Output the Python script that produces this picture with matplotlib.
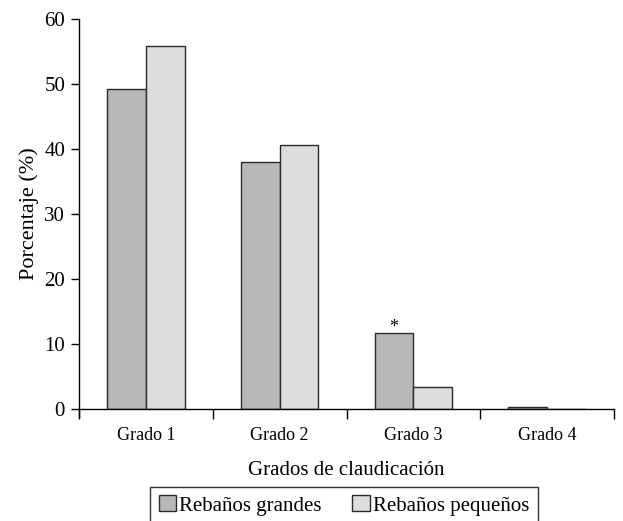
import matplotlib
matplotlib.use("Agg")
import matplotlib.pyplot as plt
import numpy as np

plt.rcParams['font.family'] = ['Liberation Serif', 'DejaVu Serif']

categorias = ["Grado 1", "Grado 2", "Grado 3", "Grado 4"]
grandes = [49.2, 38.0, 11.7, 0.3]
pequenos = [55.8, 40.6, 3.4, 0.0]
etiquetas = ["Rebaños grandes", "Rebaños pequeños"]

fig = plt.figure(figsize=(6.23, 5.21), dpi=100)
ax = fig.add_axes([0.1268, 0.215, 0.8588, 0.7485])

x = np.arange(len(categorias))
w = 0.29
ax.bar(x - w/2, grandes, w, color="#b8b8b8", edgecolor="#2a2a2a", linewidth=1.0, label=etiquetas[0])
ax.bar(x + w/2, pequenos, w, color="#dcdddc", edgecolor="#2a2a2a", linewidth=1.0, label=etiquetas[1])

# asterisco sobre Grado 3
ax.text(x[2] - w/2, grandes[2] + 0.15, "*", ha="center", va="baseline", fontsize=13)

ax.set_xlim(-0.5, len(categorias) - 0.5)
ax.set_ylim(0, 60)
ax.set_yticks(range(0, 61, 10))
ax.set_xticks(x)
ax.set_xticklabels(categorias, fontsize=13)
ax.tick_params(axis='x', length=0, pad=13)
ax.set_xticks(np.arange(-0.5, len(categorias), 1.0), minor=True)
ax.tick_params(axis='x', which='minor', length=7, width=1, direction='out')
ax.tick_params(axis='y', labelsize=15, length=6, width=1, direction='out', pad=4)

for s in ["top", "right"]:
    ax.spines[s].set_visible(False)
ax.spines["left"].set_bounds(-1.2, 60)
ax.spines["left"].set_linewidth(1)
ax.spines["bottom"].set_linewidth(1)

ax.set_ylabel("Porcentaje (%)", fontsize=16, labelpad=3.5)
ax.set_xlabel("Grados de claudicación", fontsize=15, labelpad=12)

leg = ax.legend(loc="upper center", bbox_to_anchor=(0.552, 1 - 487/521), bbox_transform=fig.transFigure,
                ncol=2, frameon=True, fancybox=False, edgecolor="black", fontsize=15,
                handlelength=0.85, handleheight=0.8, handletextpad=0.15, columnspacing=1.45,
                borderpad=0.4, borderaxespad=0)
leg.get_frame().set_linewidth(1)

fig.savefig("out.png", dpi=100)
